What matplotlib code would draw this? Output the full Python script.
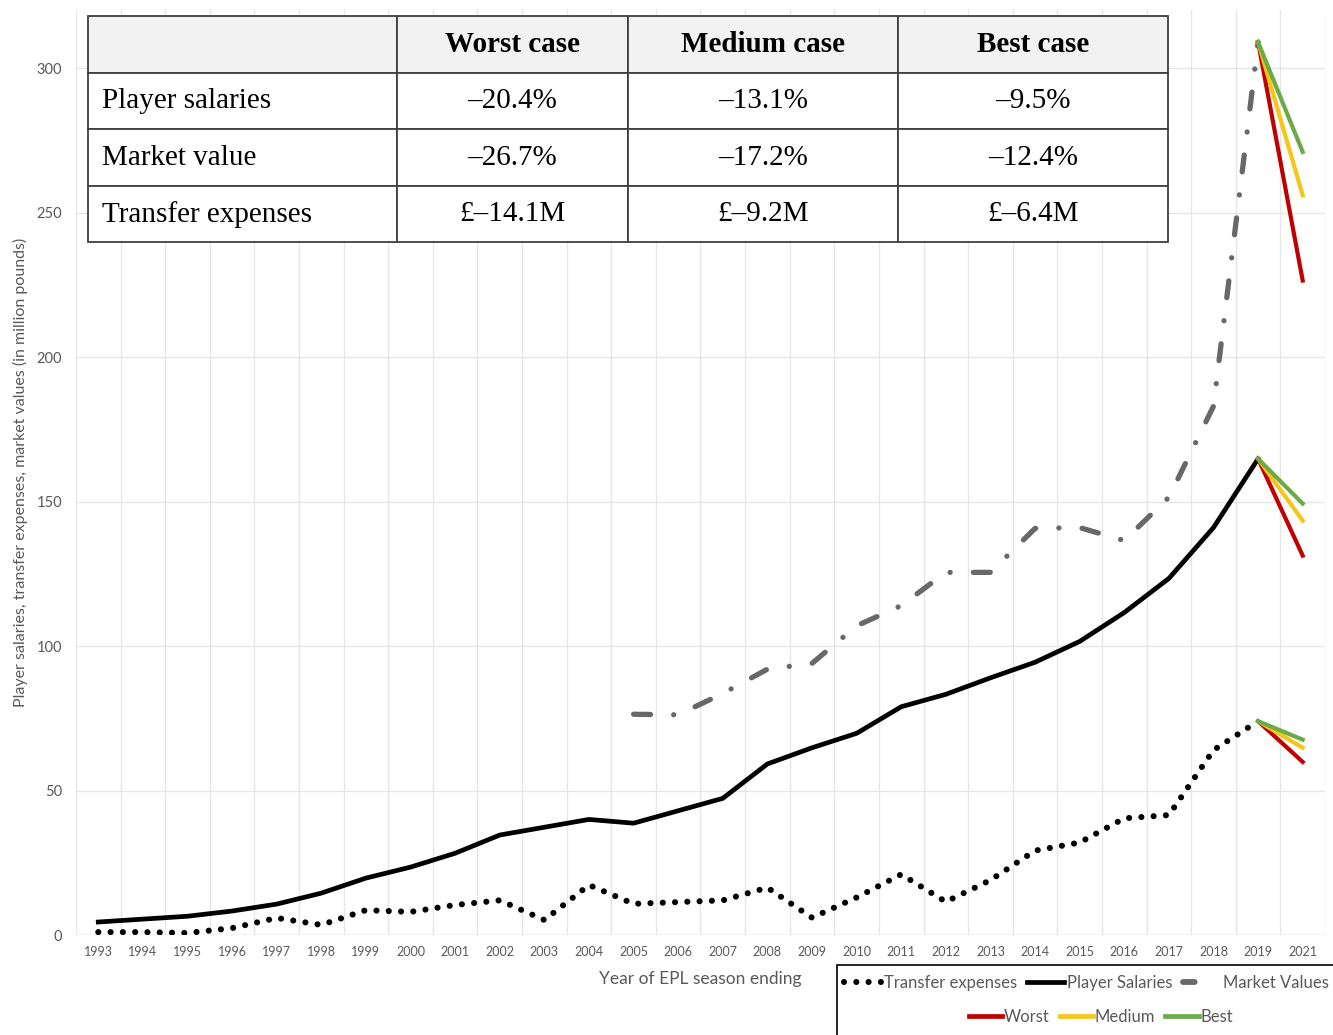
import matplotlib
matplotlib.use("Agg")
import matplotlib.pyplot as plt
from matplotlib.lines import Line2D
from matplotlib.patches import Rectangle

# data (million pounds)
years = [str(y) for y in range(1993, 2020)] + ["2021"]

salaries = [4.5, 5.5, 6.5, 8.3, 10.7, 14.5, 19.7, 23.5, 28.3, 34.6, 37.3, 40.0, 38.7, 43.0,
            47.3, 59.2, 64.8, 69.8, 79.0, 83.3, 89.0, 94.4, 101.6, 111.6, 123.4, 141.0, 164.8]
transfers = [1.0, 1.0, 0.7, 2.4, 5.9, 3.5, 8.6, 8.0, 10.4, 12.0, 5.2, 17.3, 10.8, 11.4,
             12.0, 16.4, 6.0, 13.0, 21.0, 11.5, 19.0, 29.2, 32.0, 40.4, 41.5, 64.0, 74.0]
market_years = [str(y) for y in range(2005, 2020)]
market = [76.4, 76.2, 83.6, 92.0, 94.0, 107.0, 114.0, 125.5, 125.5, 140.7, 141.0, 136.5,
          151.5, 183.0, 309.0]

# 2021 scenario end values: worst, medium, best
scenarios = ["Worst", "Medium", "Best"]
scen_colors = ["#c00000", "#f5c518", "#6aab46"]
salaries_2021 = [131.3, 143.4, 149.3]
market_2021 = [226.5, 256.0, 271.0]
transfers_2021 = [59.9, 64.8, 67.6]

table_cols = ["", "Worst case", "Medium case", "Best case"]
table_rows = [["Player salaries", "\u201320.4%", "\u201313.1%", "\u20139.5%"],
              ["Market value", "\u201326.7%", "\u201317.2%", "\u201312.4%"],
              ["Transfer expenses", "\u00a3\u201314.1M", "\u00a3\u20139.2M", "\u00a3\u20136.4M"]]

plt.rcParams['font.family'] = ['Lato', 'DejaVu Sans']
grey = "#595959"

fig = plt.figure(figsize=(13.33, 10.35), dpi=100)
ax = fig.add_axes([0.057, 0.0966, 0.937, 0.8934])

xi = {y: i for i, y in enumerate(years)}
x_all = list(range(len(years) - 1))
x_mkt = [xi[y] for y in market_years]

ax.plot(x_mkt, market, color="#686868", lw=3.8, dashes=(3.2, 4.4, 0.01, 4.4),
        dash_capstyle="round", zorder=3)
ax.plot(x_all, salaries, color="black", lw=3.4, solid_joinstyle="round", zorder=4)
ax.plot(x_all, transfers, color="black", lw=4.4, dashes=(0.01, 2.0),
        dash_capstyle="round", zorder=4)

i19, i21 = xi["2019"], xi["2021"]
for k in range(3):
    for start, end in [(salaries[-1], salaries_2021[k]), (market[-1], market_2021[k]),
                       (transfers[-1], transfers_2021[k])]:
        ax.plot([i19, i21], [start, end], color=scen_colors[k], lw=3.0, zorder=5)

ax.set_xlim(-0.5, len(years) - 0.5)
ax.set_ylim(0, 320)
ax.set_yticks(range(0, 301, 50))
ax.set_xticks(range(len(years)))
ax.set_xticklabels(years)
ax.set_xticks([i - 0.5 for i in range(len(years) + 1)], minor=True)
ax.grid(True, axis="x", which="minor", color="#e6e6e6", lw=1)
ax.grid(True, axis="y", which="major", color="#e6e6e6", lw=1)
ax.tick_params(axis="both", which="both", length=0, colors=grey)
ax.tick_params(axis="x", labelsize=9, pad=8)
ax.tick_params(axis="y", labelsize=10.5, pad=10)
for s in ax.spines.values():
    s.set_visible(False)
ax.axhline(0, color="#d9d9d9", lw=1)

ax.set_ylabel("Player salaries, transfer expenses, market values (in million pounds)",
              color=grey, fontsize=11.5, labelpad=6)
ax.set_xlabel("Year of EPL season ending", color=grey, fontsize=12.5, labelpad=9)

# table at the top
tb = ax.table(cellText=table_rows, colLabels=table_cols,
              colWidths=[309, 231, 270, 270],
              bbox=[0.0096, 0.749, 0.8647, 0.2445], zorder=10)
tb.auto_set_font_size(False)
for (r, c), cell in tb.get_celld().items():
    cell.set_edgecolor("#404040")
    cell.set_linewidth(1.3)
    txt = cell.get_text()
    txt.set_fontfamily("Liberation Serif")
    txt.set_fontsize(21)
    if r == 0:
        cell.set_facecolor("#f2f2f2")
        txt.set_fontweight("bold")
        txt.set_ha("center")
    elif c == 0:
        cell.set_facecolor("white")
        txt.set_ha("left")
        cell.PAD = 0.045
    else:
        cell.set_facecolor("white")
        txt.set_ha("center")
    if c == 0:
        cell._loc = "left" if r > 0 else "center"

# legend box at bottom right
fig.patches.append(Rectangle((0.628, -0.01), 0.40, 0.0775, transform=fig.transFigure,
                             fill=False, edgecolor="black", lw=1.2))
h1 = [Line2D([], [], color="black", lw=4.4, dashes=(0.01, 2.0), dash_capstyle="round"),
      Line2D([], [], color="black", lw=3.4),
      Line2D([], [], color="#686868", lw=4.2, dashes=(2.0, 100), dash_capstyle="round")]
fig.legend(h1, ["Transfer expenses", "Player Salaries", "Market Values"],
           loc="center", bbox_to_anchor=(0.815, 0.050), ncol=3, frameon=False,
           fontsize=12, handlelength=2.2, handletextpad=0.2, columnspacing=0.6,
           labelcolor=grey)
h2 = [Line2D([], [], color=c, lw=3.4) for c in scen_colors]
fig.legend(h2, scenarios, loc="center", bbox_to_anchor=(0.826, 0.0175), ncol=3,
           frameon=False, fontsize=12, handlelength=2.0, handletextpad=0.1,
           columnspacing=0.6, labelcolor=grey)

fig.savefig("out.png", dpi=100)
